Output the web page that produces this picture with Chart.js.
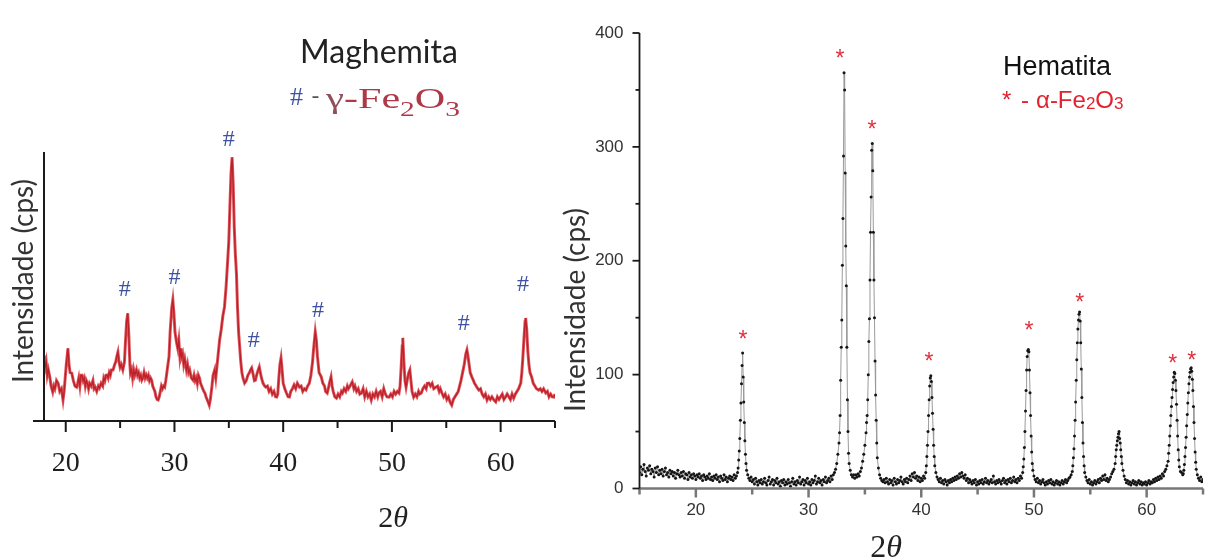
<!DOCTYPE html>
<html lang="pt">
<head>
<meta charset="utf-8">
<title>DRX - Maghemita e Hematita</title>
<script src="https://cdn.jsdelivr.net/npm/chart.js@4.4.1/dist/chart.umd.min.js"></script>
<style>
  html, body { margin: 0; padding: 0; background: #fff; }
  #page { position: relative; width: 1211px; height: 559px; overflow: hidden; }
  .panel { position: absolute; top: 0; height: 559px; }
  #left { left: 0; width: 560px; }
  #right { left: 560px; width: 651px; }
</style>
</head>
<body>
<div id="page">
  <div class="panel" id="left"><canvas id="maghemite-chart"></canvas></div>
  <div class="panel" id="right"><canvas id="hematite-chart"></canvas></div>
</div>
<script>
// Maghemita pattern: [2theta, relative intensity]
const maghemitePattern = [
  [18.0,24.5],[18.1,20],[18.2,22],[18.3,17],[18.4,19],[18.55,16],[18.65,13],[18.8,10.8],[18.9,13],[19.0,12],
  [19.15,15],[19.3,14],[19.45,11],[19.6,12],[19.75,7.8],[19.85,11],[19.95,16],[20.05,21],[20.2,27],[20.3,21],
  [20.4,18],[20.55,17.8],[20.7,15],[20.85,13],[21.0,12.6],[21.1,14],[21.2,16],[21.3,13],[21.4,17],[21.5,17],
  [21.6,15],[21.7,16],[21.8,13],[21.9,15],[22.0,14],[22.1,12],[22.2,14],[22.35,13],[22.5,15],[22.6,12],
  [22.7,12.6],[22.85,11],[23.0,13],[23.1,12.3],[23.25,14],[23.4,13],[23.5,16],[23.6,15],[23.7,17],[23.8,17.1],
  [23.9,16],[24.0,18],[24.1,17],[24.2,19],[24.35,19],[24.5,21],[24.6,22],[24.7,24],[24.8,25.6],[24.9,22],
  [25.0,20],[25.1,21],[25.25,19],[25.4,22],[25.5,30],[25.6,37],[25.7,40],[25.8,32],[25.9,21],[25.95,17.8],
  [26.05,19],[26.15,16],[26.25,19],[26.35,17],[26.5,19],[26.6,17],[26.7,18],[26.8,16],[26.9,17],[27.0,15.2],
  [27.1,16],[27.2,18],[27.3,16],[27.4,17.1],[27.5,16],[27.6,17],[27.7,15],[27.8,16],[27.9,15.2],[28.0,13],
  [28.1,12],[28.2,11],[28.3,9],[28.4,8],[28.5,7.8],[28.6,9],[28.7,11],[28.8,13],[28.9,12],[29.0,13],
  [29.1,12.6],[29.2,15],[29.3,18],[29.4,21],[29.5,24],[29.6,33],[29.75,42],[29.85,45],[29.95,40],[30.05,33],
  [30.2,29],[30.3,27],[30.4,30],[30.5,24],[30.6,27],[30.65,23.8],[30.75,25],[30.85,21],[30.95,23],[31.1,19],
  [31.2,21],[31.3,18],[31.4,19],[31.55,16],[31.7,15.2],[31.8,17],[31.9,15],[32.0,16],[32.1,14],[32.2,17],
  [32.3,16],[32.4,14],[32.5,13],[32.6,12],[32.7,11],[32.8,10.4],[32.9,9],[33.0,8],[33.1,7],[33.2,5.9],
  [33.3,8],[33.45,13],[33.55,17],[33.7,19],[33.8,16],[33.9,20],[34.0,24],[34.15,30],[34.3,34],[34.45,39],
  [34.6,42.4],[34.75,50],[34.9,60],[35.0,67],[35.1,80],[35.2,92],[35.3,98],[35.4,88],[35.5,72],[35.6,62],
  [35.7,55],[35.8,42],[35.9,33],[36.0,27.5],[36.1,22],[36.2,18],[36.3,16],[36.45,14.1],[36.6,15],[36.75,17],
  [36.9,18],[37.0,19],[37.1,19.7],[37.2,18],[37.35,15],[37.45,15.2],[37.55,17],[37.7,19],[37.8,20.1],[37.9,18],
  [38.0,16],[38.15,14],[38.3,13],[38.4,12.6],[38.55,13],[38.7,11],[38.85,12],[39.0,10],[39.15,11],[39.3,9],
  [39.4,8.9],[39.5,10],[39.6,16],[39.7,21],[39.8,23.4],[39.9,19],[40.0,14],[40.15,12],[40.3,10.4],[40.45,9],
  [40.57,8.9],[40.7,11],[40.85,12],[41.0,13.4],[41.15,12],[41.3,14],[41.5,12.6],[41.65,13],[41.8,11],[41.95,12],
  [42.1,11.5],[42.25,13],[42.4,14],[42.55,17],[42.7,22],[42.8,27],[42.95,33.1],[43.05,30],[43.15,24],[43.3,18],
  [43.5,16.4],[43.65,14],[43.8,13],[43.9,11],[44.05,10.4],[44.15,12],[44.25,14],[44.4,16.4],[44.5,13],[44.6,11],
  [44.75,9],[44.9,8.5],[45.05,10],[45.2,9],[45.35,11],[45.45,10.4],[45.6,12],[45.75,11],[45.9,13],[46.0,12],
  [46.15,13],[46.35,14.5],[46.5,12],[46.6,13],[46.75,11],[46.9,12],[47.05,10],[47.2,10.4],[47.35,12],[47.5,9],
  [47.65,11],[47.8,9],[47.95,10],[48.1,7.8],[48.25,10],[48.4,9],[48.55,11],[48.7,9],[48.8,10.4],[48.95,11],
  [49.1,9],[49.25,12],[49.4,10],[49.55,9],[49.75,8.9],[49.9,10],[50.05,9],[50.2,11],[50.35,10],[50.5,11],
  [50.65,10.4],[50.75,13],[50.85,20],[50.95,28],[51.0,30.9],[51.1,22],[51.2,15],[51.3,12.6],[51.4,15],[51.55,18],
  [51.65,19],[51.75,15],[51.85,11],[52.0,8.9],[52.15,10],[52.3,9],[52.45,11],[52.55,10],[52.7,10.4],[52.85,12],
  [53.0,13],[53.15,12],[53.25,14],[53.4,14.1],[53.55,13],[53.7,14],[53.85,12],[54.05,12.6],[54.2,13],[54.35,11],
  [54.45,12],[54.6,10.4],[54.75,9],[54.9,10],[55.05,8],[55.2,9],[55.35,7],[55.5,5.9],[55.65,8],[55.8,9],
  [55.95,10],[56.1,11],[56.2,12.6],[56.35,15],[56.5,18],[56.65,21],[56.8,25],[56.9,26.4],[57.0,24],[57.1,21],
  [57.2,18],[57.35,16.4],[57.5,15],[57.6,14],[57.75,13],[57.9,12],[58.0,11.5],[58.15,12],[58.3,10],[58.45,9],
  [58.6,10],[58.75,7.8],[58.9,9],[59.05,8],[59.2,9],[59.35,8],[59.55,7.1],[59.7,9],[59.85,8],[60.0,9],
  [60.15,10],[60.3,8],[60.45,8.9],[60.6,10],[60.75,9],[60.9,8],[61.05,10],[61.2,8.5],[61.35,10],[61.5,11],
  [61.65,12],[61.85,14.1],[61.95,18],[62.05,24],[62.15,31],[62.25,37],[62.3,38.3],[62.4,34],[62.5,26],[62.6,21],
  [62.7,18],[62.85,16.4],[63.0,14],[63.15,13],[63.3,12],[63.5,11.5],[63.65,12],[63.8,11],[63.95,12],[64.15,10.4],
  [64.3,11],[64.45,9],[64.6,10],[64.75,9],[64.9,8.9],[65.0,10]
];
// "#" marks over the maghemita reflections: [2theta, height]
const maghemiteMarks = [[25.43,48.7],[30.0,53.2],[35.0,104.4],[37.3,29.7],[43.2,40.9],[56.6,36.1],[62.05,50.6]];
const maghemiteXLabels = [20, 30, 40, 50, 60];

// Hematita pattern: [2theta, counts per second]
const hematitePattern = [
  [15.0,14],[15.1,19],[15.2,12],[15.3,17],[15.4,21],[15.5,15],[15.6,11],[15.7,18],[15.8,16],[15.9,20],
  [16.0,13],[16.1,17],[16.2,15],[16.3,10],[16.4,18],[16.5,14],[16.6,19],[16.7,12],[16.8,16],[16.9,13],
  [17.0,17],[17.1,11],[17.2,15],[17.3,18],[17.4,12],[17.5,14],[17.6,10],[17.7,16],[17.8,13],[17.9,15],
  [18.0,11],[18.1,14],[18.2,9],[18.3,13],[18.4,16],[18.5,12],[18.6,10],[18.7,14],[18.8,11],[18.9,15],
  [19.0,9],[19.1,13],[19.2,12],[19.3,8],[19.4,14],[19.5,10],[19.6,12],[19.7,9],[19.8,13],[19.9,11],
  [20.0,8],[20.1,12],[20.2,10],[20.3,13],[20.4,9],[20.5,11],[20.6,7],[20.7,12],[20.8,10],[20.9,8],
  [21.0,11],[21.1,9],[21.2,13],[21.3,8],[21.4,10],[21.5,7],[21.6,11],[21.7,9],[21.8,12],[21.9,8],
  [22.0,10],[22.1,6],[22.2,11],[22.3,9],[22.4,7],[22.5,12],[22.6,8],[22.7,10],[22.8,6],[22.9,9],
  [23.0,11],[23.1,8],[23.2,10],[23.3,7],[23.4,12],[23.5,9],[23.6,11],
  [23.7,14],[23.75,18],[23.8,25],[23.85,33],[23.9,44],[23.95,60],[24.0,75],[24.05,92],[24.1,108],[24.15,119],
  [24.2,98],[24.25,76],[24.3,58],[24.35,42],[24.4,30],[24.45,22],[24.5,16],[24.6,12],[24.7,9],
  [24.8,7],[24.9,10],[25.0,6],[25.1,8],[25.2,4],[25.3,9],[25.4,6],[25.5,3],[25.6,7],[25.7,5],
  [25.8,8],[25.9,4],[26.0,6],[26.1,9],[26.2,5],[26.3,3],[26.4,7],[26.5,10],[26.6,4],[26.7,6],
  [26.8,8],[26.9,3],[27.0,7],[27.1,5],[27.2,9],[27.3,4],[27.4,6],[27.5,2],[27.6,7],[27.7,5],
  [27.8,8],[27.9,3],[28.0,6],[28.1,4],[28.2,8],[28.3,5],[28.4,2],[28.5,6],[28.6,9],[28.7,4],
  [28.8,6],[28.9,3],[29.0,7],[29.1,5],[29.2,10],[29.3,4],[29.4,6],[29.5,8],[29.6,3],[29.7,7],
  [29.8,5],[29.9,9],[30.0,4],[30.1,6],[30.2,3],[30.3,8],[30.4,5],[30.5,7],[30.6,11],[30.7,4],
  [30.8,6],[30.9,9],[31.0,5],[31.1,7],[31.2,3],[31.3,8],[31.4,6],[31.5,10],[31.6,5],[31.7,7],
  [31.8,9],[31.9,6],[32.0,11],[32.1,8],
  [32.2,12],[32.3,14],[32.4,17],[32.5,22],[32.6,30],[32.7,40],[32.75,49],[32.8,64],[32.85,95],[32.9,124],
  [32.95,148],[33.0,196],[33.05,237],[33.1,292],[33.15,365],[33.2,350],[33.25,277],[33.3,213],[33.35,178],[33.4,124],
  [33.45,78],[33.5,50],[33.55,31],[33.6,22],[33.7,16],[33.8,12],[33.9,10],[34.0,12],[34.1,9],[34.2,12],
  [34.3,10],[34.4,13],[34.5,11],[34.6,15],[34.7,18],[34.8,24],[34.9,30],[35.0,38],[35.1,49],[35.15,58],
  [35.2,64],[35.25,78],[35.3,100],[35.35,129],[35.4,149],[35.45,183],[35.5,225],[35.55,256],[35.6,297],[35.65,303],
  [35.7,279],[35.75,225],[35.8,183],[35.85,150],[35.9,112],[35.95,82],[36.0,60],[36.05,40],[36.1,27],[36.2,18],
  [36.3,12],[36.4,9],[36.5,7],
  [36.6,6],[36.7,8],[36.8,5],[36.9,9],[37.0,6],[37.1,4],[37.2,8],[37.3,5],[37.4,7],[37.5,3],
  [37.6,9],[37.7,6],[37.8,4],[37.9,8],[38.0,5],[38.1,7],[38.2,10],[38.3,6],[38.4,4],[38.5,8],
  [38.6,6],[38.7,9],[38.8,5],[38.9,8],[39.0,11],[39.1,7],[39.2,13],[39.3,10],[39.4,14],[39.5,9],
  [39.6,11],[39.7,7],[39.8,10],[39.9,6],[40.0,9],[40.1,7],[40.2,11],[40.3,9],
  [40.4,14],[40.45,20],[40.5,28],[40.55,38],[40.6,50],[40.65,64],[40.7,78],[40.75,90],[40.8,97],[40.85,99],
  [40.9,94],[40.95,80],[41.0,66],[41.05,52],[41.1,38],[41.15,28],[41.2,20],[41.3,14],[41.4,10],
  [41.5,8],[41.6,6],[41.7,9],[41.8,5],[41.9,7],[42.0,4],[42.1,8],[42.2,6],[42.3,3],[42.4,7],
  [42.5,5],[42.6,8],[42.7,6],[42.8,9],[42.9,7],[43.0,10],[43.1,8],[43.2,11],[43.3,9],[43.4,13],
  [43.5,10],[43.6,14],[43.7,11],[43.8,9],[43.9,12],[44.0,7],[44.1,9],[44.2,5],[44.3,8],[44.4,6],
  [44.5,4],[44.6,7],[44.7,5],[44.8,8],[44.9,3],[45.0,6],[45.1,4],[45.2,7],[45.3,5],[45.4,8],
  [45.5,4],[45.6,6],[45.7,9],[45.8,5],[45.9,7],[46.0,4],[46.1,6],[46.2,8],[46.3,5],[46.4,11],
  [46.5,6],[46.6,4],[46.7,7],[46.8,5],[46.9,8],[47.0,6],[47.1,4],[47.2,7],[47.3,9],[47.4,5],
  [47.5,7],[47.6,4],[47.7,8],[47.8,6],[47.9,9],[48.0,5],[48.1,7],[48.2,10],[48.3,6],[48.4,8],
  [48.5,5],[48.6,9],[48.7,7],[48.8,11],[48.9,9],
  [49.0,14],[49.05,19],[49.1,26],[49.15,36],[49.2,50],[49.25,68],[49.3,86],[49.35,104],[49.4,116],[49.45,121],
  [49.5,122],[49.55,120],[49.6,104],[49.65,84],[49.7,64],[49.75,46],[49.8,32],[49.85,22],[49.9,16],[50.0,11],
  [50.1,8],[50.2,6],[50.3,9],[50.4,5],[50.5,7],[50.6,4],[50.7,6],[50.8,8],[50.9,5],[51.0,3],
  [51.1,6],[51.2,4],[51.3,7],[51.4,5],[51.5,8],[51.6,4],[51.7,6],[51.8,3],[51.9,5],[52.0,7],
  [52.1,4],[52.2,6],[52.3,3],[52.4,5],[52.5,7],[52.6,4],[52.7,6],[52.8,8],[52.9,5],[53.0,7],
  [53.1,9],[53.2,10],[53.3,12],
  [53.4,15],[53.45,20],[53.5,27],[53.55,35],[53.6,46],[53.65,60],[53.7,76],[53.75,95],[53.8,113],[53.85,128],
  [53.9,140],[53.95,148],[54.0,153],[54.05,155],[54.1,147],[54.15,128],[54.2,105],[54.25,80],[54.3,58],[54.35,40],
  [54.4,28],[54.45,20],[54.5,14],[54.6,10],
  [54.7,7],[54.8,5],[54.9,8],[55.0,4],[55.1,6],[55.2,3],[55.3,5],[55.4,7],[55.5,4],[55.6,6],
  [55.7,8],[55.8,5],[55.9,9],[56.0,7],[56.1,11],[56.2,8],[56.3,12],[56.4,7],[56.5,9],[56.6,6],
  [56.7,8],[56.8,10],[56.9,13],[57.0,15],
  [57.1,17],[57.2,22],[57.25,28],[57.3,34],[57.35,38],[57.4,42],[57.45,45],[57.5,48],[57.55,50],[57.6,44],
  [57.65,40],[57.7,34],[57.75,28],[57.8,22],[57.9,16],[58.0,11],
  [58.1,8],[58.2,5],[58.3,7],[58.4,4],[58.5,6],[58.6,3],[58.7,5],[58.8,7],[58.9,4],[59.0,6],
  [59.1,3],[59.2,5],[59.3,7],[59.4,4],[59.5,6],[59.6,3],[59.7,5],[59.8,4],[59.9,6],[60.0,3],
  [60.1,5],[60.2,7],[60.3,4],[60.4,6],[60.5,5],[60.6,8],[60.7,6],[60.8,9],[60.9,7],[61.0,10],
  [61.1,8],[61.2,11],[61.3,9],[61.4,13],[61.5,11],[61.6,15],[61.7,17],[61.8,20],
  [61.9,24],[61.95,31],[62.0,38],[62.05,46],[62.1,55],[62.15,64],[62.2,72],[62.25,80],[62.3,87],[62.35,93],
  [62.4,98],[62.45,102],[62.5,101],[62.55,95],[62.6,86],[62.65,74],[62.7,60],[62.75,46],[62.8,34],[62.85,25],
  [62.9,19],[63.0,15],[63.1,14],[63.2,12],[63.25,13],[63.3,16],[63.35,21],[63.4,28],[63.45,36],[63.5,45],
  [63.55,55],[63.6,65],[63.65,75],[63.7,84],[63.75,92],[63.8,98],[63.85,102],[63.9,105],[63.95,106],[64.0,103],
  [64.05,96],[64.1,86],[64.15,72],[64.2,58],[64.25,44],[64.3,32],[64.35,23],[64.4,17],[64.5,12],[64.6,9],
  [64.7,7],[64.8,10],[64.9,6],[65.0,8]
];
// "*" marks over the hematita reflections: [2theta, height in cps]
const hematiteMarks = [[24.18,134.8],[32.79,381.6],[35.62,319.2],[40.68,115.5],[49.55,142.7],[54.07,167.3],[62.32,113.7],[64.0,116.4]];
const hematiteXLabels = [20, 30, 40, 50, 60];
const hematiteYLabels = [0, 100, 200, 300, 400];

const toXY = (pairs) => pairs.map(([x, y]) => ({ x, y }));

function runsWidth(ctx, runs) {
  let w = 0;
  runs.forEach(([text, font]) => { ctx.font = font; w += ctx.measureText(text).width; });
  return w;
}

// Draws a line of text made of differently styled pieces;
// when a width is given the line is stretched horizontally to it
function drawRuns(ctx, x, y, runs, width) {
  ctx.save();
  ctx.translate(x, y);
  if (width) ctx.scale(width / runsWidth(ctx, runs), 1);
  let cx = 0;
  runs.forEach(([text, font, color, dy]) => {
    ctx.font = font;
    ctx.fillStyle = color;
    ctx.fillText(text, cx, dy || 0);
    cx += ctx.measureText(text).width;
  });
  ctx.restore();
}

function drawVerticalTitle(ctx, text, font, color, x, y) {
  ctx.save();
  ctx.translate(x, y);
  ctx.rotate(-Math.PI / 2);
  ctx.font = font;
  ctx.fillStyle = color;
  ctx.textAlign = "center";
  ctx.textBaseline = "alphabetic";
  ctx.fillText(text, 0, 0);
  ctx.restore();
}

// keep the plot area exactly where the layout padding puts it
function noEdgePadding(scale) {
  scale.paddingLeft = 0;
  scale.paddingRight = 0;
  scale.paddingTop = 0;
  scale.paddingBottom = 0;
}

// ---------- Maghemita ----------
const maghemiteFrame = {
  id: "maghemiteFrame",
  afterDraw(chart) {
    const { ctx, chartArea: a, scales: { x, y } } = chart;
    ctx.save();
    ctx.strokeStyle = "#1a1a1a";
    ctx.lineWidth = 2;
    ctx.beginPath();
    ctx.moveTo(a.left, a.top);
    ctx.lineTo(a.left, a.bottom);
    ctx.moveTo(a.left - 11, a.bottom);
    ctx.lineTo(a.right, a.bottom);
    ctx.stroke();

    x.ticks.forEach((t) => {
      const px = x.getPixelForValue(t.value);
      const len = t.value % 10 === 0 ? 11 : 7;
      ctx.beginPath();
      ctx.moveTo(px, a.bottom);
      ctx.lineTo(px, a.bottom + len);
      ctx.stroke();
    });

    // peak marks
    ctx.font = '24px "Liberation Serif"';
    ctx.fillStyle = "#3f51a3";
    ctx.textAlign = "center";
    ctx.textBaseline = "middle";
    maghemiteMarks.forEach(([t, h]) => {
      ctx.fillText("#", x.getPixelForValue(t), y.getPixelForValue(h));
    });

    ctx.textAlign = "left";
    ctx.textBaseline = "alphabetic";
    ctx.font = "32px Lato";
    ctx.fillStyle = "#222";
    ctx.fillText("Maghemita", 300, 63);

    ctx.fillStyle = "#3f51a3";
    ctx.font = '26px "Liberation Serif"';
    ctx.fillText("#", 290, 105);
    ctx.fillStyle = "#555";
    ctx.font = "24px Lato";
    ctx.fillText("-", 311, 104);
    const red = "#ae3846";
    drawRuns(ctx, 326, 108, [
      ["\u03b3", '29px "Liberation Serif"', "#905058"],
      ["-Fe", '30px "Liberation Serif"', red],
      ["2", '21px "Liberation Serif"', red, 8],
      ["O", '30px "Liberation Serif"', red],
      ["3", '21px "Liberation Serif"', red, 8],
    ], 134);

    drawVerticalTitle(ctx, "Intensidade (cps)", "28px Lato", "#333", 33, 281);

    const theta = [
      ["2", '30px "Liberation Serif"', "#222"],
      ["\u03b8", 'italic 30px "Liberation Serif"', "#222"],
    ];
    drawRuns(ctx, 393 - runsWidth(ctx, theta) / 2, 527, theta);
    ctx.restore();
  },
};

new Chart(document.getElementById("maghemite-chart"), {
  type: "line",
  data: {
    datasets: [
      {
        data: toXY(maghemitePattern),
        borderColor: "rgba(212, 34, 44, 0.78)",
        borderWidth: 3,
        pointRadius: 0,
        tension: 0,
      },
      {
        data: toXY(maghemitePattern),
        borderColor: "#6a171c",
        borderWidth: 1.3,
        pointRadius: 0,
        tension: 0,
      },
    ],
  },
  options: {
    responsive: true,
    maintainAspectRatio: false,
    animation: false,
    layout: { padding: { top: 152, right: 5, left: 0, bottom: 0 } },
    plugins: { legend: { display: false }, tooltip: { enabled: false } },
    scales: {
      x: {
        type: "linear",
        min: 18,
        max: 65,
        grid: { display: false, drawTicks: false },
        border: { display: false },
        ticks: {
          stepSize: 5,
          includeBounds: false,
          autoSkip: false,
          maxRotation: 0,
          padding: 26,
          color: "#1f1f1f",
          font: { family: '"Liberation Serif"', size: 28 },
          callback: (v) => (maghemiteXLabels.includes(v) ? String(v) : ""),
        },
        afterFit: (scale) => { scale.height = 138; noEdgePadding(scale); },
      },
      y: {
        min: 0,
        max: 100,
        grid: { display: false, drawTicks: false },
        border: { display: false },
        ticks: { display: false },
        afterFit: (scale) => { scale.width = 44; noEdgePadding(scale); },
      },
    },
  },
  plugins: [maghemiteFrame],
});

// ---------- Hematita ----------
const hematiteFrame = {
  id: "hematiteFrame",
  afterDraw(chart) {
    const { ctx, chartArea: a, scales: { x, y } } = chart;
    ctx.save();
    ctx.strokeStyle = "#777";
    ctx.lineWidth = 2.5;
    ctx.beginPath();
    ctx.moveTo(a.left, a.bottom);
    ctx.lineTo(a.right, a.bottom);
    ctx.stroke();
    x.ticks.forEach((t) => {
      const px = x.getPixelForValue(t.value);
      const len = t.value % 10 === 0 ? 9 : 6;
      ctx.beginPath();
      ctx.moveTo(px, a.bottom);
      ctx.lineTo(px, a.bottom + len);
      ctx.stroke();
    });

    ctx.strokeStyle = "#1a1a1a";
    ctx.lineWidth = 1.8;
    ctx.beginPath();
    ctx.moveTo(a.left, a.top);
    ctx.lineTo(a.left, a.bottom);
    ctx.stroke();
    y.ticks.forEach((t) => {
      const py = y.getPixelForValue(t.value);
      const len = t.value % 100 === 0 ? 7 : 4;
      ctx.beginPath();
      ctx.moveTo(a.left, py);
      ctx.lineTo(a.left - len, py);
      ctx.stroke();
    });

    // peak marks
    ctx.font = '23px "Liberation Sans"';
    ctx.fillStyle = "#e0303c";
    ctx.textAlign = "center";
    ctx.textBaseline = "alphabetic";
    hematiteMarks.forEach(([t, h]) => {
      ctx.fillText("*", x.getPixelForValue(t), y.getPixelForValue(h) + 12);
    });

    // captions (canvas starts at page x = 560)
    const ox = -560;
    ctx.textAlign = "left";
    ctx.font = '27px "Liberation Sans"';
    ctx.fillStyle = "#111";
    ctx.fillText("Hematita", 1003 + ox, 75);
    const red = "#e2222e";
    ctx.font = '24px "Liberation Sans"';
    ctx.fillStyle = red;
    ctx.fillText("*", 1002 + ox, 108);
    ctx.fillText("-", 1021 + ox, 108);
    drawRuns(ctx, 1036 + ox, 108, [
      ["\u03b1-Fe", '24px "Liberation Sans"', red],
      ["2", '17px "Liberation Sans"', red, 1],
      ["O", '24px "Liberation Sans"', red],
      ["3", '17px "Liberation Sans"', red, 1],
    ]);

    drawVerticalTitle(ctx, "Intensidade (cps)", "28px Lato", "#333", 585 + ox, 310);

    const theta = [
      ["2", '32px "Liberation Serif"', "#222"],
      ["\u03b8", 'italic 32px "Liberation Serif"', "#222"],
    ];
    drawRuns(ctx, 886 + ox - runsWidth(ctx, theta) / 2, 557, theta);
    ctx.restore();
  },
};

new Chart(document.getElementById("hematite-chart"), {
  type: "line",
  data: {
    datasets: [
      {
        data: toXY(hematitePattern),
        borderColor: "#9a9a9a",
        borderWidth: 1,
        pointRadius: 1.5,
        pointBackgroundColor: "#151515",
        pointBorderWidth: 0,
        tension: 0,
      },
    ],
  },
  options: {
    responsive: true,
    maintainAspectRatio: false,
    animation: false,
    layout: { padding: { top: 33, right: 8, left: 0, bottom: 0 } },
    plugins: { legend: { display: false }, tooltip: { enabled: false } },
    scales: {
      x: {
        type: "linear",
        min: 15,
        max: 65,
        grid: { display: false, drawTicks: false },
        border: { display: false },
        ticks: {
          stepSize: 5,
          includeBounds: false,
          autoSkip: false,
          maxRotation: 0,
          padding: 12,
          color: "#333",
          font: { family: '"Liberation Sans"', size: 17 },
          callback: (v) => (hematiteXLabels.includes(v) ? String(v) : ""),
        },
        afterFit: (scale) => { scale.height = 70.5; noEdgePadding(scale); },
      },
      y: {
        min: 0,
        max: 400,
        grid: { display: false, drawTicks: false },
        border: { display: false },
        ticks: {
          stepSize: 50,
          autoSkip: false,
          padding: 16,
          color: "#333",
          font: { family: '"Liberation Sans"', size: 17 },
          callback: (v) => (hematiteYLabels.includes(v) ? String(v) : ""),
        },
        afterFit: (scale) => { scale.width = 79.5; noEdgePadding(scale); },
      },
    },
  },
  plugins: [hematiteFrame],
});
</script>
</body>
</html>
